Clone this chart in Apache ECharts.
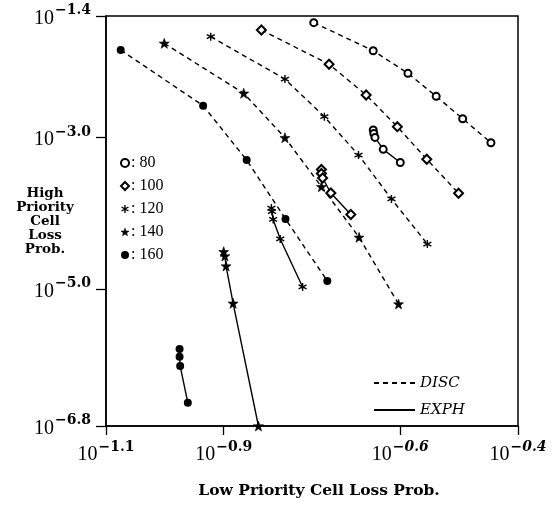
<!DOCTYPE html>
<html>
<head>
<meta charset="utf-8">
<script src="https://cdn.jsdelivr.net/npm/echarts@6/dist/echarts.min.js"></script>
<style>
html, body { margin: 0; padding: 0; background: #fff; }
#chart { width: 552px; height: 505px; }
</style>
</head>
<body>
<div id="chart"></div>
<script>
// All values are log10 of the cell loss probabilities: [low priority, high priority]
const loads = ['80', '100', '120', '140', '160'];

// DISC model (dashed curves)
const disc80  = [[-0.747, -1.488], [-0.646, -1.857], [-0.587, -2.155], [-0.539, -2.458], [-0.494, -2.753], [-0.446, -3.069]];
const disc100 = [[-0.836, -1.584], [-0.721, -2.036], [-0.658, -2.440], [-0.605, -2.858], [-0.555, -3.287], [-0.501, -3.735]];
const disc120 = [[-0.922, -1.673], [-0.796, -2.230], [-0.729, -2.726], [-0.671, -3.231], [-0.615, -3.810], [-0.554, -4.403]];
const disc140 = [[-1.001, -1.760], [-0.866, -2.418], [-0.796, -3.003], [-0.734, -3.648], [-0.670, -4.315], [-0.603, -5.193]];
const disc160 = [[-1.075, -1.848], [-0.935, -2.581], [-0.861, -3.297], [-0.795, -4.074], [-0.724, -4.890]];

// EXPH model (solid curves)
const exph80  = [[-0.646, -2.901], [-0.645, -2.947], [-0.643, -2.999], [-0.629, -3.156], [-0.600, -3.329]];
const exph100 = [[-0.734, -3.422], [-0.734, -3.474], [-0.732, -3.534], [-0.718, -3.731], [-0.684, -4.014]];
const exph120 = [[-0.819, -3.929], [-0.818, -3.975], [-0.816, -4.080], [-0.804, -4.337], [-0.766, -4.969]];
const exph140 = [[-0.900, -4.504], [-0.898, -4.561], [-0.896, -4.693], [-0.884, -5.184], [-0.841, -6.800]];
const exph160 = [[-0.975, -5.786], [-0.975, -5.887], [-0.974, -6.010], [-0.961, -6.493]];

// Axis ranges and tick positions (exponents of ten)
const xTicks = [-1.1, -0.9, -0.6, -0.4];
const yTicks = [-6.8, -5.0, -3.0, -1.4];
const xItalicTicks = [-0.6, -0.4];

const SERIF = '"Liberation Serif", "DejaVu Serif", serif';
const WIDE_SERIF = '"DejaVu Serif", "Liberation Serif", serif';
const BLACK = '#000';

const ASTERISK = 'path://M0,-10L0,10M-8.66,-5L8.66,5M-8.66,5L8.66,-5';
const STAR = 'path://M0,-10L2.35,-3.24L9.51,-3.09L3.8,1.24L5.88,8.09L0,4L-5.88,8.09L-3.8,1.24L-9.51,-3.09L-2.35,-3.24Z';

const marks = {
  '80':  { symbol: 'emptyCircle',  size: 7,  itemStyle: { color: BLACK } },
  '100': { symbol: 'emptyDiamond', size: 9,  itemStyle: { color: BLACK } },
  '120': { symbol: ASTERISK,       size: 8,  itemStyle: { color: 'rgba(0,0,0,0)', borderColor: BLACK, borderWidth: 1.4 } },
  '140': { symbol: STAR,           size: 10, itemStyle: { color: BLACK, borderColor: BLACK, borderWidth: 0.6 } },
  '160': { symbol: 'circle',       size: 8,  itemStyle: { color: BLACK } }
};

const discData = { '80': disc80, '100': disc100, '120': disc120, '140': disc140, '160': disc160 };
const exphData = { '80': exph80, '100': exph100, '120': exph120, '140': exph140, '160': exph160 };

const DASH = [5, 4];

function curve(name, data, dashed) {
  const m = marks[name];
  return {
    type: 'line',
    name: name,
    data: data,
    symbol: m.symbol,
    symbolSize: m.size,
    showAllSymbol: true,
    itemStyle: m.itemStyle,
    lineStyle: { color: BLACK, width: 1.4, type: dashed ? DASH : 'solid' },
    color: BLACK,
    animation: false,
    z: 3
  };
}

function expLabel(v, italic) {
  const s = v.toFixed(1).replace('-', '\u2212');
  return '{b|10}{' + (italic ? 'si' : 's') + '|' + s + '}';
}

const labelRich = {
  b:  { fontFamily: SERIF, fontSize: 20, color: BLACK, lineHeight: 25, verticalAlign: 'bottom' },
  s:  { fontFamily: WIDE_SERIF, fontSize: 14, fontWeight: 'bold', color: BLACK, verticalAlign: 'top', padding: [0, 0, 0, 1] },
  si: { fontFamily: WIDE_SERIF, fontSize: 14, fontWeight: 'bold', fontStyle: 'italic', color: BLACK, verticalAlign: 'top', padding: [0, 0, 0, 1] }
};

const series = [];
loads.forEach(n => series.push(curve(n, discData[n], true)));
loads.forEach(n => series.push(curve(n, exphData[n], false)));
// Key entries for the two models
series.push({ type: 'line', name: 'DISC', data: [], symbol: 'none', color: BLACK,
  lineStyle: { color: BLACK, width: 1.4, type: DASH } });
series.push({ type: 'line', name: 'EXPH', data: [], symbol: 'none', color: BLACK,
  lineStyle: { color: BLACK, width: 1.4, type: 'solid' } });

const chart = echarts.init(document.getElementById('chart'), null, { renderer: 'canvas' });
chart.setOption({
  backgroundColor: '#fff',
  animation: false,
  grid: { left: 106, right: 34, top: 16, bottom: 79, containLabel: false, outerBoundsMode: 'none',
    show: true, borderColor: BLACK, borderWidth: 1.5, backgroundColor: 'transparent' },
  xAxis: {
    type: 'value', min: -1.1, max: -0.4,
    axisLine: { show: true, onZero: false, lineStyle: { color: BLACK, width: 1.5 } },
    axisTick: { show: true, customValues: xTicks, length: 9, lineStyle: { color: BLACK, width: 1.3 } },
    axisLabel: { customValues: xTicks, margin: 14, rich: labelRich,
      formatter: v => expLabel(v, xItalicTicks.some(t => Math.abs(t - v) < 1e-9)) },
    splitLine: { show: false },
    name: 'Low Priority Cell Loss Prob.', nameLocation: 'middle', nameGap: 57, nameMoveOverlap: false,
    nameTextStyle: { fontFamily: WIDE_SERIF, fontWeight: 'bold', fontSize: 15.5, color: BLACK, padding: [0, 0, 0, 14] }
  },
  yAxis: {
    type: 'value', min: -6.8, max: -1.4,
    axisLine: { show: true, onZero: false, lineStyle: { color: BLACK, width: 1.5 } },
    axisTick: { show: true, customValues: yTicks, length: 10, lineStyle: { color: BLACK, width: 1.3 } },
    axisLabel: { customValues: yTicks, margin: 15, rich: labelRich, formatter: v => expLabel(v, false) },
    splitLine: { show: false },
    name: 'High\nPriority\nCell\nLoss\nProb.', nameLocation: 'middle', nameRotate: 0, nameGap: 61, nameMoveOverlap: false,
    nameTextStyle: { fontFamily: WIDE_SERIF, fontWeight: 'bold', fontSize: 13.5, lineHeight: 14, color: BLACK, align: 'center', verticalAlign: 'middle' }
  },
  legend: [
    {
      orient: 'vertical', left: 120, top: 155, padding: 0, itemGap: 7,
      itemWidth: 8, itemHeight: 8, selectedMode: false,
      data: loads.map(n => ({ name: n, icon: marks[n].symbol, itemStyle: marks[n].itemStyle })),
      formatter: n => ': ' + n,
      textStyle: { fontFamily: SERIF, fontSize: 16, color: BLACK, lineHeight: 16, padding: [0, 0, 0, -3] }
    },
    {
      orient: 'vertical', left: 373, top: 374, padding: 0, itemGap: 9,
      itemWidth: 41, itemHeight: 14, selectedMode: false,
      itemStyle: { opacity: 0 },
      data: ['DISC', 'EXPH'],
      textStyle: { fontFamily: WIDE_SERIF, fontSize: 15, fontStyle: 'italic', color: BLACK, lineHeight: 18 }
    }
  ],
  series: series
});
</script>
</body>
</html>
